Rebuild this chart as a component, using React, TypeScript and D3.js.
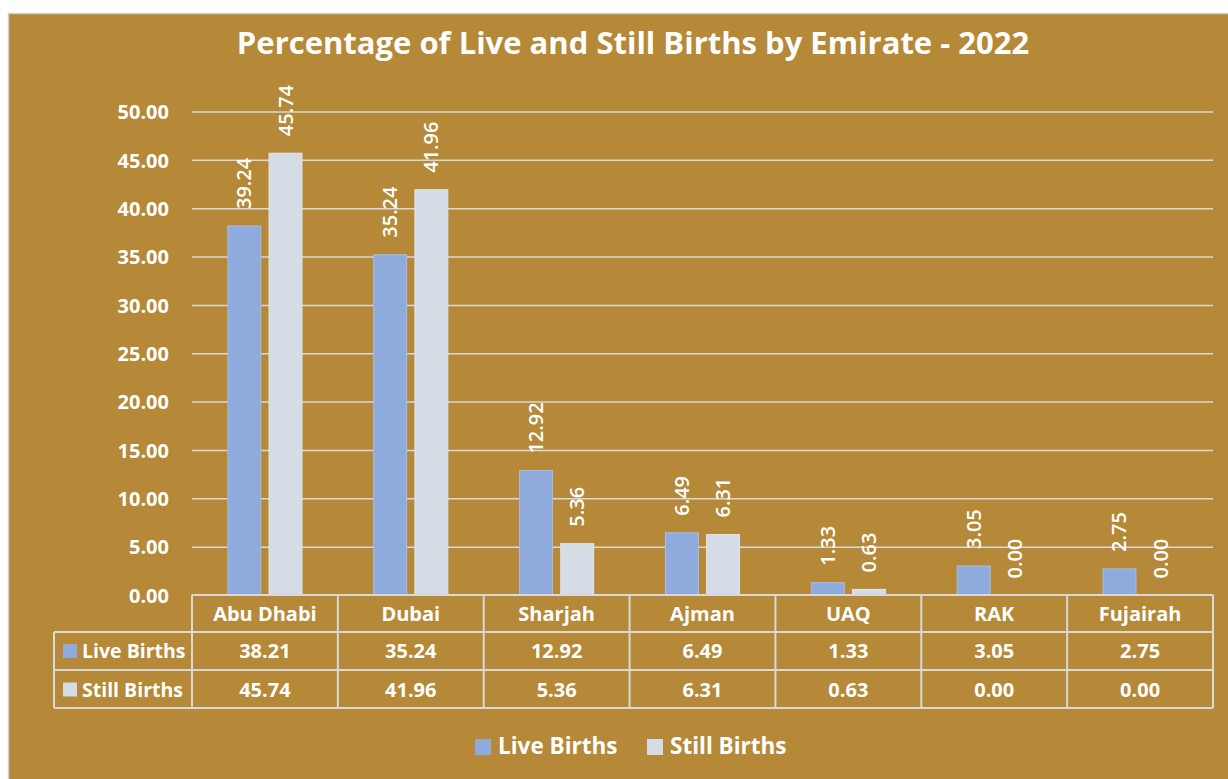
import React, { useEffect, useRef } from "react";
import * as d3 from "d3";

const emirates = ["Abu Dhabi", "Dubai", "Sharjah", "Ajman", "UAQ", "RAK", "Fujairah"];
const liveBirths = [38.21, 35.24, 12.92, 6.49, 1.33, 3.05, 2.75];
const stillBirths = [45.74, 41.96, 5.36, 6.31, 0.63, 0.0, 0.0];
// the data labels on the bars, as printed in the picture (first one differs from the table)
const liveLabels = ["39.24", "35.24", "12.92", "6.49", "1.33", "3.05", "2.75"];
const stillLabels = ["45.74", "41.96", "5.36", "6.31", "0.63", "0.00", "0.00"];
const seriesNames = ["Live Births", "Still Births"];
const yTicks = [0, 5, 10, 15, 20, 25, 30, 35, 40, 45, 50];

const BG = "#B58937";
const LIVE = "#8FAADC";
const STILL = "#D6DCE5";
const GRID = "#D9D9D9";
const FONT = "'Open Sans', sans-serif";

export default function App() {
	const ref = useRef<SVGSVGElement>(null);

	useEffect(() => {
		const svg = d3.select(ref.current);
		svg.selectAll("*").remove();

		const left = 192;
		const right = 1213;
		const top = 112;
		const base = 595.5;

		// chart frame
		svg.append("rect")
			.attr("x", 8.5)
			.attr("y", 13.5)
			.attr("width", 1230)
			.attr("height", 780)
			.attr("fill", BG)
			.attr("stroke", "#D0D0D0")
			.attr("stroke-width", 1.5);

		svg.append("text")
			.attr("x", 633)
			.attr("y", 54)
			.attr("text-anchor", "middle")
			.attr("font-family", FONT)
			.attr("font-weight", "bold")
			.attr("font-size", "31px")
			.attr("fill", "white")
			.text("Percentage of Live and Still Births by Emirate - 2022");

		const x = d3.scaleBand().domain(emirates).range([left, right]);
		const bw = x.bandwidth();
		const xSub = d3
			.scaleBand()
			.domain(seriesNames)
			.range([bw * 0.246, bw * 0.754])
			.paddingInner(0.2);
		const y = d3.scaleLinear().domain([0, 50]).range([base, top]);

		// gridlines
		svg.append("g")
			.selectAll("line")
			.data(yTicks.filter((t) => t > 0))
			.enter()
			.append("line")
			.attr("x1", left)
			.attr("x2", right)
			.attr("y1", (d) => y(d))
			.attr("y2", (d) => y(d))
			.attr("stroke", GRID)
			.attr("stroke-width", 1.5);

		// y tick labels
		svg.append("g")
			.selectAll("text")
			.data(yTicks)
			.enter()
			.append("text")
			.attr("x", 169)
			.attr("y", (d) => y(d))
			.attr("dy", "0.36em")
			.attr("text-anchor", "end")
			.attr("font-family", FONT)
			.attr("font-weight", "bold")
			.attr("font-size", "20px")
			.attr("fill", "white")
			.text((d) => d3.format(".2f")(d));

		const series = [
			{ name: seriesNames[0], values: liveBirths, labels: liveLabels, color: LIVE, edge: "#A9BEE6" },
			{ name: seriesNames[1], values: stillBirths, labels: stillLabels, color: STILL, edge: "#E2E6EC" }
		];

		series.forEach((s) => {
			const g = svg.append("g");
			g.selectAll("rect")
				.data(s.values)
				.enter()
				.filter((d) => d > 0)
				.append("rect")
				.attr("x", (d, i) => (x(emirates[i]) as number) + (xSub(s.name) as number))
				.attr("y", (d) => y(d))
				.attr("width", xSub.bandwidth())
				.attr("height", (d) => base - y(d))
				.attr("fill", s.color)
				.attr("stroke", s.edge)
				.attr("stroke-width", 1);

			// rotated data labels
			g.selectAll("text")
				.data(s.values)
				.enter()
				.append("text")
				.attr("transform", (d, i) => {
					const cx = (x(emirates[i]) as number) + (xSub(s.name) as number) + xSub.bandwidth() / 2;
					return "translate(" + (cx + 7) + "," + (y(d) - 17) + ") rotate(-90)";
				})
				.attr("font-family", FONT)
				.attr("font-weight", 600)
				.attr("font-size", "20px")
				.attr("fill", "white")
				.text((d, i) => s.labels[i]);
		});

		// data table
		const rowTop = [595, 632, 670, 708];
		const tableLeft = 54;
		const lines = svg.append("g").attr("stroke", GRID).attr("stroke-width", 2);
		lines.append("line").attr("x1", left).attr("x2", right).attr("y1", rowTop[0]).attr("y2", rowTop[0]);
		rowTop.slice(1).forEach((ry) => {
			lines.append("line").attr("x1", tableLeft).attr("x2", right).attr("y1", ry).attr("y2", ry);
		});
		lines.append("line").attr("x1", tableLeft).attr("x2", tableLeft).attr("y1", rowTop[1]).attr("y2", rowTop[3]);
		emirates.forEach((e) => {
			const ex = x(e) as number;
			lines.append("line").attr("x1", ex).attr("x2", ex).attr("y1", rowTop[0]).attr("y2", rowTop[3]);
		});
		lines.append("line").attr("x1", right).attr("x2", right).attr("y1", rowTop[0]).attr("y2", rowTop[3]);

		const cellText = (g: any) =>
			g.attr("text-anchor", "middle")
				.attr("font-family", FONT)
				.attr("font-weight", "bold")
				.attr("font-size", "20px")
				.attr("fill", "white");

		svg.append("g")
			.selectAll("text")
			.data(emirates)
			.enter()
			.append("text")
			.attr("x", (d) => (x(d) as number) + bw / 2)
			.attr("y", 621)
			.call(cellText)
			.text((d) => d);

		series.forEach((s, si) => {
			const baseline = si === 0 ? 658 : 696.5;
			const g = svg.append("g");
			g.selectAll("text")
				.data(s.values)
				.enter()
				.append("text")
				.attr("x", (d, i) => (x(emirates[i]) as number) + bw / 2)
				.attr("y", baseline)
				.call(cellText)
				.text((d) => d3.format(".2f")(d));

			g.append("rect")
				.attr("x", 63)
				.attr("y", baseline - 14)
				.attr("width", 14)
				.attr("height", 14)
				.attr("fill", s.color);
			g.append("text")
				.attr("x", 82)
				.attr("y", baseline)
				.call(cellText)
				.attr("font-size", "19.5px")
				.attr("text-anchor", "start")
				.text(s.name);
		});

		// legend
		const legendX = [475, 647];
		series.forEach((s, si) => {
			const lg = svg.append("g").attr("transform", "translate(" + legendX[si] + ",0)");
			lg.append("rect")
				.attr("x", 0)
				.attr("y", 739)
				.attr("width", 16)
				.attr("height", 16)
				.attr("fill", s.color);
			lg.append("text")
				.attr("x", 23)
				.attr("y", 754)
				.attr("font-family", FONT)
				.attr("font-weight", "bold")
				.attr("font-size", "22.5px")
				.attr("fill", "white")
				.text(s.name);
		});
	}, []);

	return (
		<div style={{ position: "absolute", left: 0, top: 0 }}>
			<svg ref={ref} width={1228} height={779} style={{ display: "block" }}></svg>
		</div>
	);
}
